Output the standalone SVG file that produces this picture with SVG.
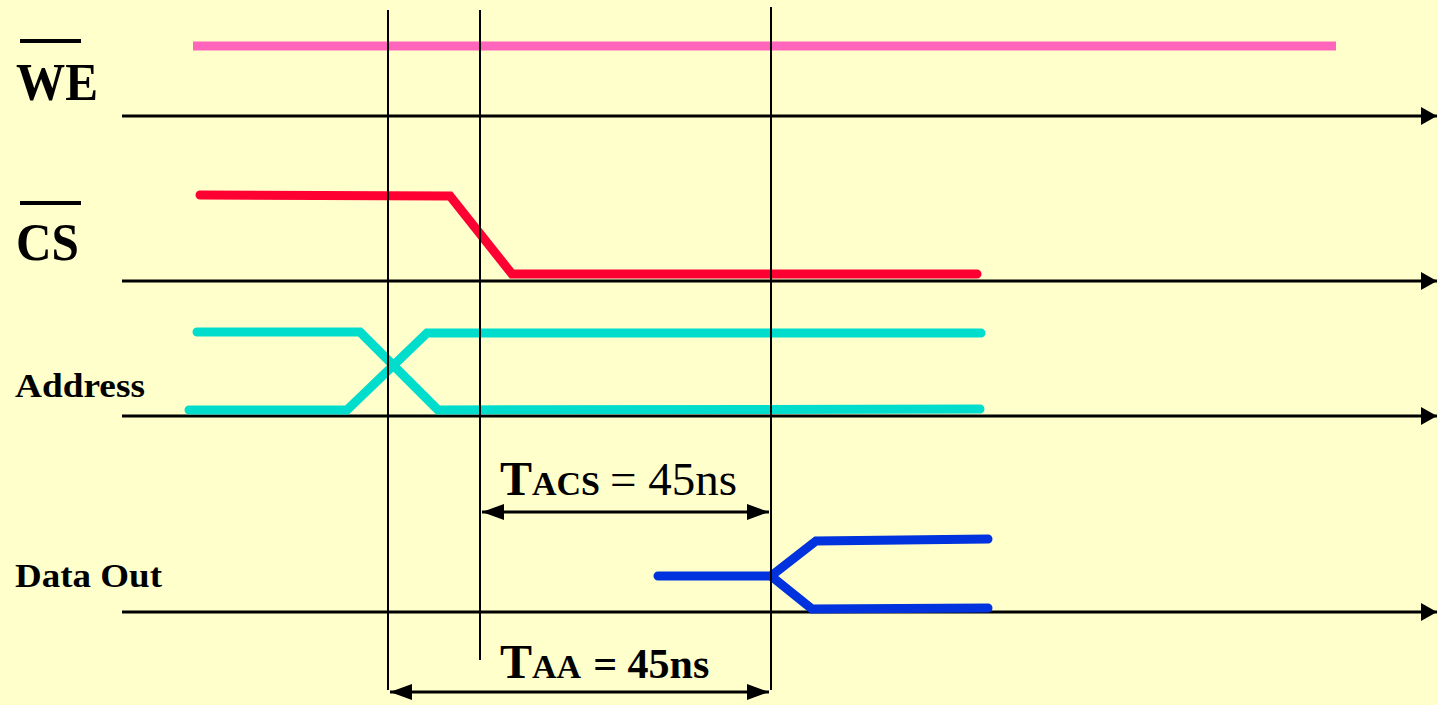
<svg xmlns="http://www.w3.org/2000/svg" width="1438" height="705" viewBox="0 0 1438 705">
<defs>
<marker id="ah" markerWidth="16" markerHeight="18" refX="16" refY="9" orient="auto" markerUnits="userSpaceOnUse"><path d="M0,0 L16,9 L0,18 Z" fill="#000"/></marker>
<marker id="ahs" markerWidth="22" markerHeight="16" refX="22" refY="8" orient="auto-start-reverse" markerUnits="userSpaceOnUse"><path d="M0,0 L22,8 L0,16 Z" fill="#000"/></marker>
<style>
.axis{stroke:#000;stroke-width:3;fill:none}
.vl{stroke:#000;stroke-width:2;fill:none}
.sig{fill:none;stroke-width:9;stroke-linecap:round;stroke-linejoin:miter}
.lbl{font-family:"Liberation Serif",serif;font-weight:bold;fill:#000}
.dim{stroke:#000;stroke-width:3;fill:none}
</style>
</defs>
<rect width="1438" height="705" fill="#FFFFCC"/>
<g id="connectors">
<line class="axis" x1="122" y1="116" x2="1437" y2="116" marker-end="url(#ah)"/>
<line class="axis" x1="122" y1="281" x2="1437" y2="281" marker-end="url(#ah)"/>
<line class="axis" x1="122" y1="416" x2="1437" y2="416" marker-end="url(#ah)"/>
<line class="axis" x1="122" y1="612" x2="1437" y2="612" marker-end="url(#ah)"/>
</g>
<g id="we">
<line x1="193" y1="46" x2="1336" y2="46" stroke="#FF66BB" stroke-width="9"/>
<text class="lbl" x="16" y="100" font-size="52" textLength="82" lengthAdjust="spacingAndGlyphs">WE</text>
<line x1="20" y1="41" x2="81" y2="41" stroke="#000" stroke-width="4"/>
</g>
<g id="cs">
<polyline class="sig" stroke="#FF0033" points="200,195 450,196 512,274 977,274"/>
<text class="lbl" x="16" y="260" font-size="52" textLength="63" lengthAdjust="spacingAndGlyphs">CS</text>
<line x1="20" y1="203" x2="81" y2="203" stroke="#000" stroke-width="4"/>
</g>
<g id="address">
<polyline class="sig" stroke="#00DDCC" stroke-linecap="butt" points="197,332 360,332 438,410 980,409"/>
<polyline class="sig" stroke="#00DDCC" stroke-linecap="butt" points="189,410 347,410 427,333 981,333"/>
<text class="lbl" x="15" y="397" font-size="33" textLength="130" lengthAdjust="spacingAndGlyphs">Address</text>
</g>
<g id="dataout">
<polyline class="sig" stroke="#0033DD" points="658,576 771,576 816,541 988,539"/>
<polyline class="sig" stroke="#0033DD" points="771,576 812,609 988,608"/>
<text class="lbl" x="15" y="587" font-size="33" textLength="147" lengthAdjust="spacingAndGlyphs">Data Out</text>
</g>
<g id="guides">
<line class="vl" x1="388" y1="10" x2="388" y2="690"/>
<line class="vl" x1="480" y1="10" x2="480" y2="660"/>
<line class="vl" x1="771" y1="7" x2="771" y2="690"/>
</g>
<g id="tacs">
<line class="dim" x1="482" y1="512" x2="769" y2="512" marker-start="url(#ahs)" marker-end="url(#ahs)"/>
<text x="500" y="495" font-family="Liberation Serif,serif" fill="#000"><tspan font-weight="bold" font-size="48">T</tspan><tspan font-weight="bold" font-size="34">ACS</tspan><tspan font-size="47" dx="10">= 45ns</tspan></text>
</g>
<g id="taa">
<line class="dim" x1="390" y1="692" x2="769" y2="692" marker-start="url(#ahs)" marker-end="url(#ahs)"/>
<text x="500" y="678" font-family="Liberation Serif,serif" font-weight="bold" fill="#000"><tspan font-size="48">T</tspan><tspan font-size="34">AA</tspan><tspan font-size="42" dx="12">= 45ns</tspan></text>
</g>
</svg>
